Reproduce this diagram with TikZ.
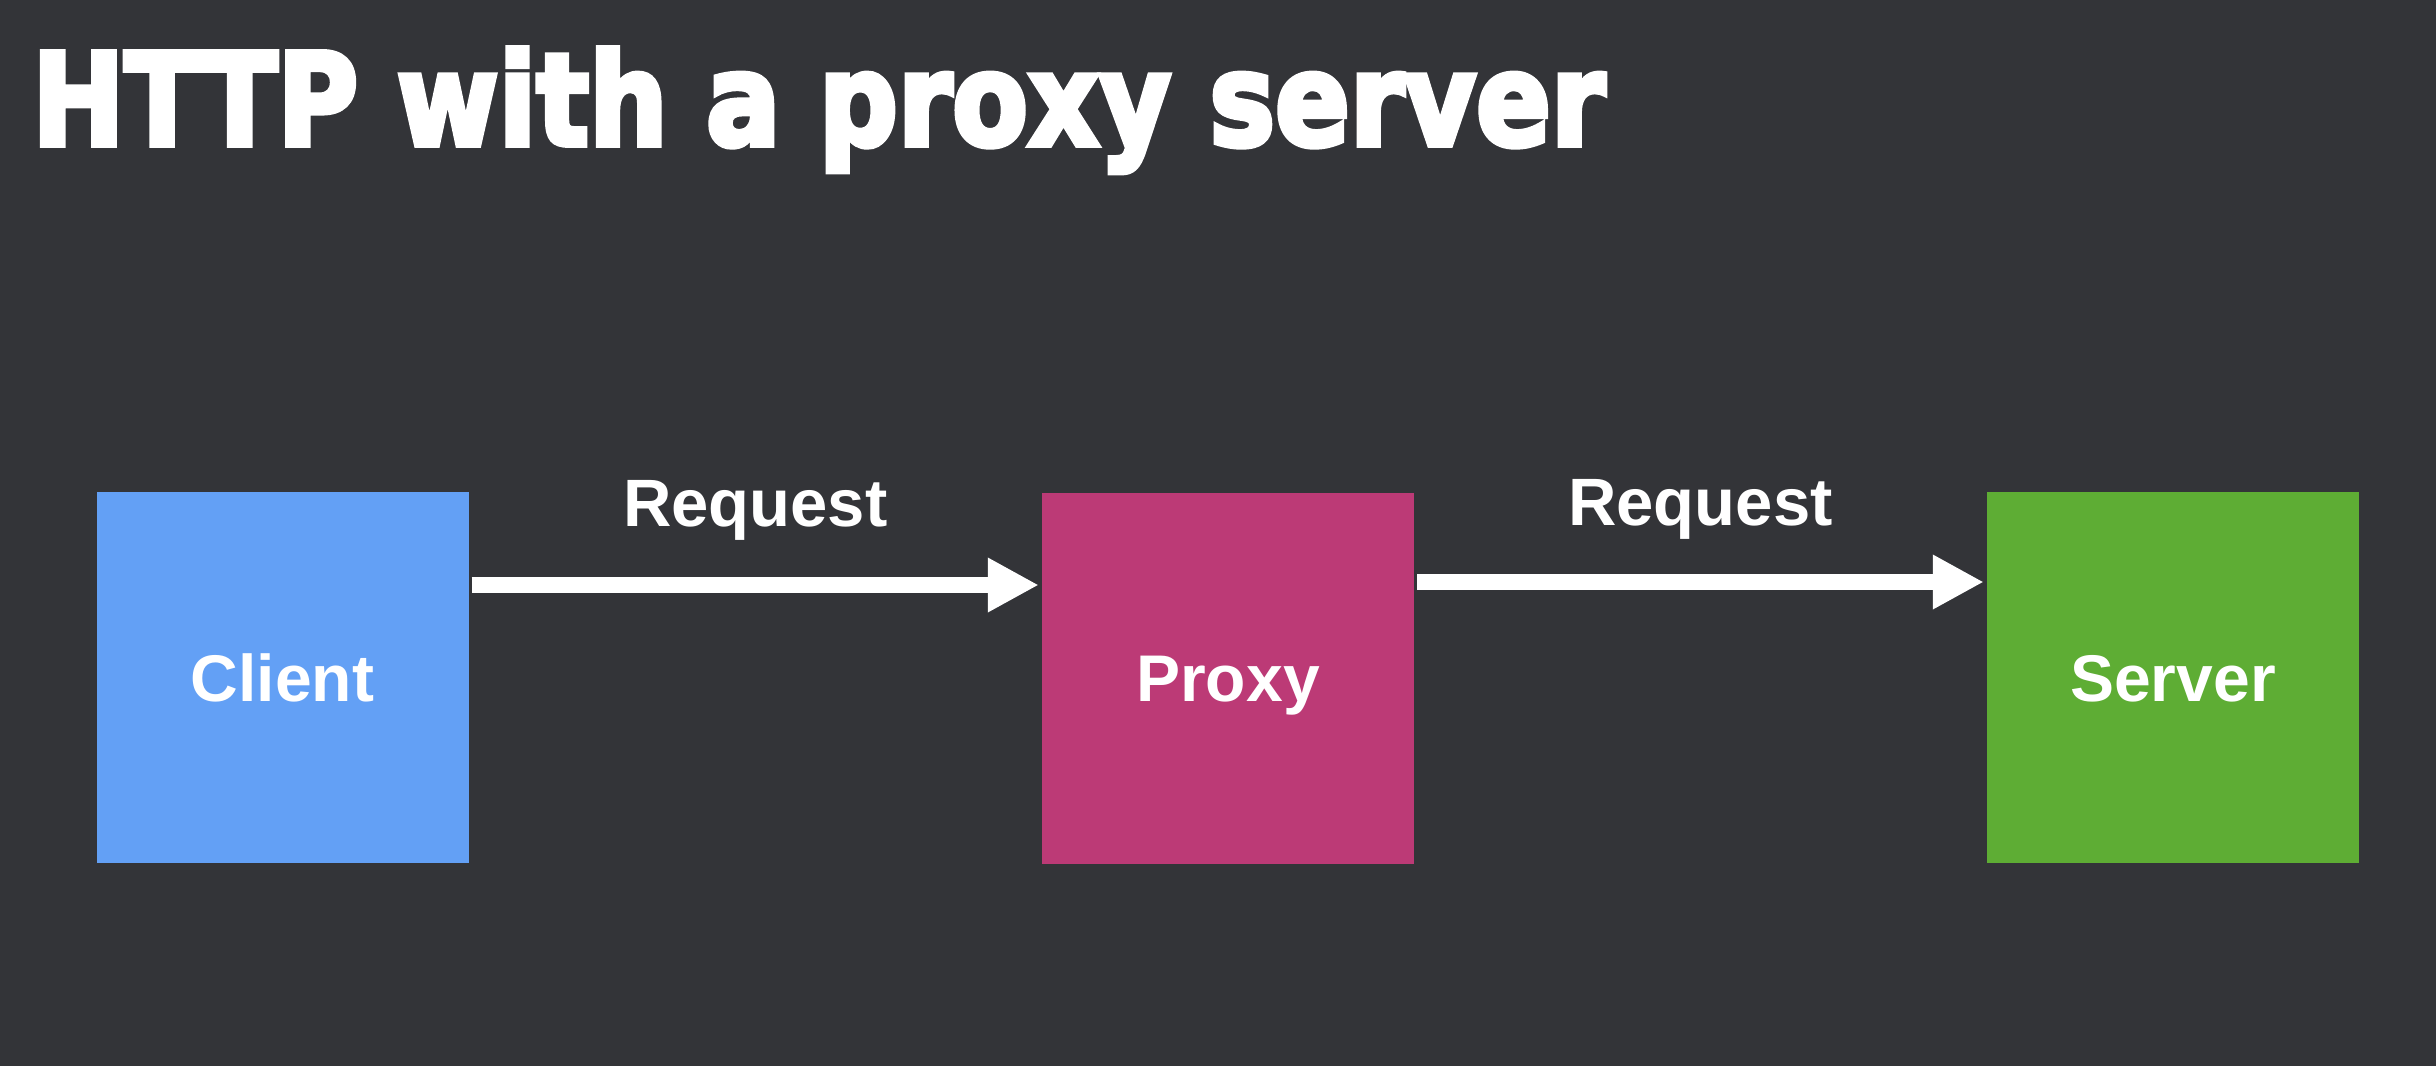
\documentclass[tikz,border=0pt]{standalone}
\usepackage{fontspec}
\setmainfont{Liberation Sans}
\newfontfamily\titlefont[FakeBold=4.5]{DejaVu Sans Bold}
\usetikzlibrary{arrows.meta}
\definecolor{bgc}{RGB}{51,52,56}
\definecolor{clientc}{RGB}{99,160,245}
\definecolor{proxyc}{RGB}{188,58,118}
\definecolor{serverc}{RGB}{94,173,52}
\begin{document}
\begin{tikzpicture}[x=1pt,y=-1pt,
  box/.style={rectangle, inner sep=0pt, minimum width=372pt, minimum height=371pt,
    text=white, text height=47pt, text depth=0pt, font=\fontsize{66}{66}\selectfont\bfseries},
  arr/.style={draw=white, line width=16pt, -{Triangle[length=51pt,width=51pt]},
    shorten <=3pt, shorten >=3pt},
  lbl/.style={text=white, font=\fontsize{67}{67}\selectfont\bfseries, inner sep=0pt, anchor=base}]
\fill[bgc] (0,0) rectangle (2436,1066);
\useasboundingbox (0,0) rectangle (2436,1066);
\node[anchor=base west, inner sep=0pt, text=white] (title) at (32,145)
  {\resizebox{1573pt}{97pt}{\titlefont HTTP with a proxy server}};
\node[box, fill=clientc] (client) at (282.5,677.5) {Client};
\node[box, fill=proxyc] (proxy) at (1228,678) {Proxy};
\node[box, fill=serverc] (server) at (2173,677.5) {Server};
\coordinate (y1) at (0,585);
\coordinate (y2) at (0,582);
\draw[arr] (client.east |- y1) -- (proxy.west |- y1)
  node[lbl, midway, yshift=59pt] (req1) {Request};
\draw[arr] (proxy.east |- y2) -- (server.west |- y2)
  node[lbl, midway, yshift=57pt] (req2) {Request};
\end{tikzpicture}
\end{document}
